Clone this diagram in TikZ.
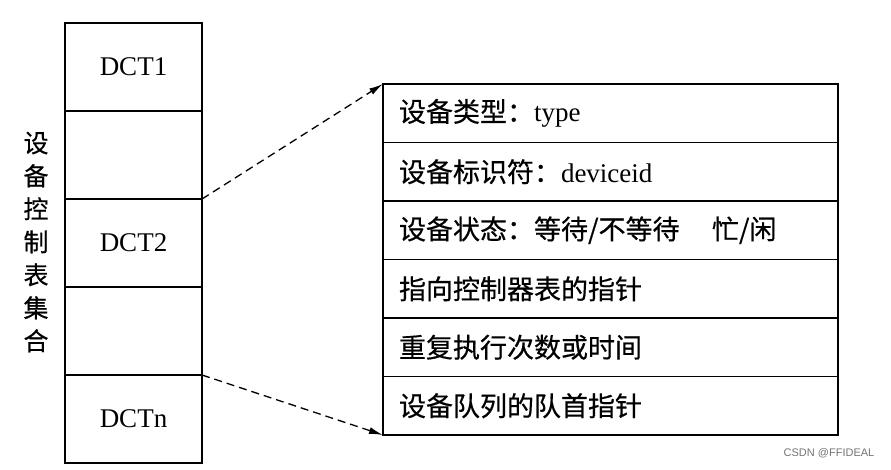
\documentclass[tikz,border=0pt]{standalone}
\usepackage{fontspec}
\setmainfont{Liberation Serif}
\newfontfamily\cjk[FakeBold=0.5]{Noto Sans CJK SC}
\newfontfamily\marksans{Liberation Sans}
\usepackage{tikz}
\usetikzlibrary{positioning,arrows.meta}

\tikzset{
  dctcell/.style={draw, line width=1.4pt, minimum width=137pt, minimum height=88pt,
    inner sep=0pt, outer sep=0pt, font=\fontsize{27}{30}\selectfont},
  fieldcell/.style={draw, line width=1.4pt, minimum height=58.5pt, text width=423pt,
    inner xsep=16pt, inner ysep=0pt, outer sep=0pt, align=left,
    font=\fontsize{27}{30}\selectfont},
  pointer/.style={line width=1.3pt, dash pattern=on 8pt off 5pt,
    -{Latex[length=14pt,width=7pt]}}
}

\begin{document}
\begin{tikzpicture}[x=1pt, y=-1pt]
  \useasboundingbox (0,0) rectangle (891,469);

  % Device control table collection
  \node[dctcell] (dct1) at (133.5,67) {DCT1};
  \node[dctcell, below=0pt of dct1] (gap1) {};
  \node[dctcell, below=0pt of gap1] (dct2) {DCT2};
  \node[dctcell, below=0pt of dct2] (gap2) {};
  \node[dctcell, below=0pt of gap2] (dctn) {DCTn};
  \draw[line width=2pt] (dct1.north west) rectangle (dctn.south east);

  % Vertical title
  \node[align=center, font=\fontsize{25}{33}\selectfont\cjk] (title) at (36,242)
    {设\\备\\控\\制\\表\\集\\合};

  % Fields of one DCT
  \node[fieldcell] (type) at (610.5,113.25) {{\cjk 设备类型：}type};
  \node[fieldcell, below=0pt of type] (devid) {{\cjk 设备标识符：}deviceid};
  \node[fieldcell, below=0pt of devid] (state) {\cjk 设备状态：等待/不等待\hspace{1.2em}忙/闲};
  \node[fieldcell, below=0pt of state] (ctlptr) {\cjk 指向控制器表的指针};
  \node[fieldcell, below=0pt of ctlptr] (retry) {\cjk 重复执行次数或时间};
  \node[fieldcell, below=0pt of retry] (queue) {\cjk 设备队列的队首指针};
  \draw[line width=2pt] (type.north west) rectangle (queue.south east);

  % Expansion lines
  \draw[pointer] (dct2.north east) -- (type.north west);
  \draw[pointer] (dctn.north east) -- (queue.south west);

  % Watermark
  \node[text=black!55, font=\marksans\fontsize{11}{13}\selectfont] (mark) at (829,453) {CSDN @FFIDEAL};
\end{tikzpicture}
\end{document}
